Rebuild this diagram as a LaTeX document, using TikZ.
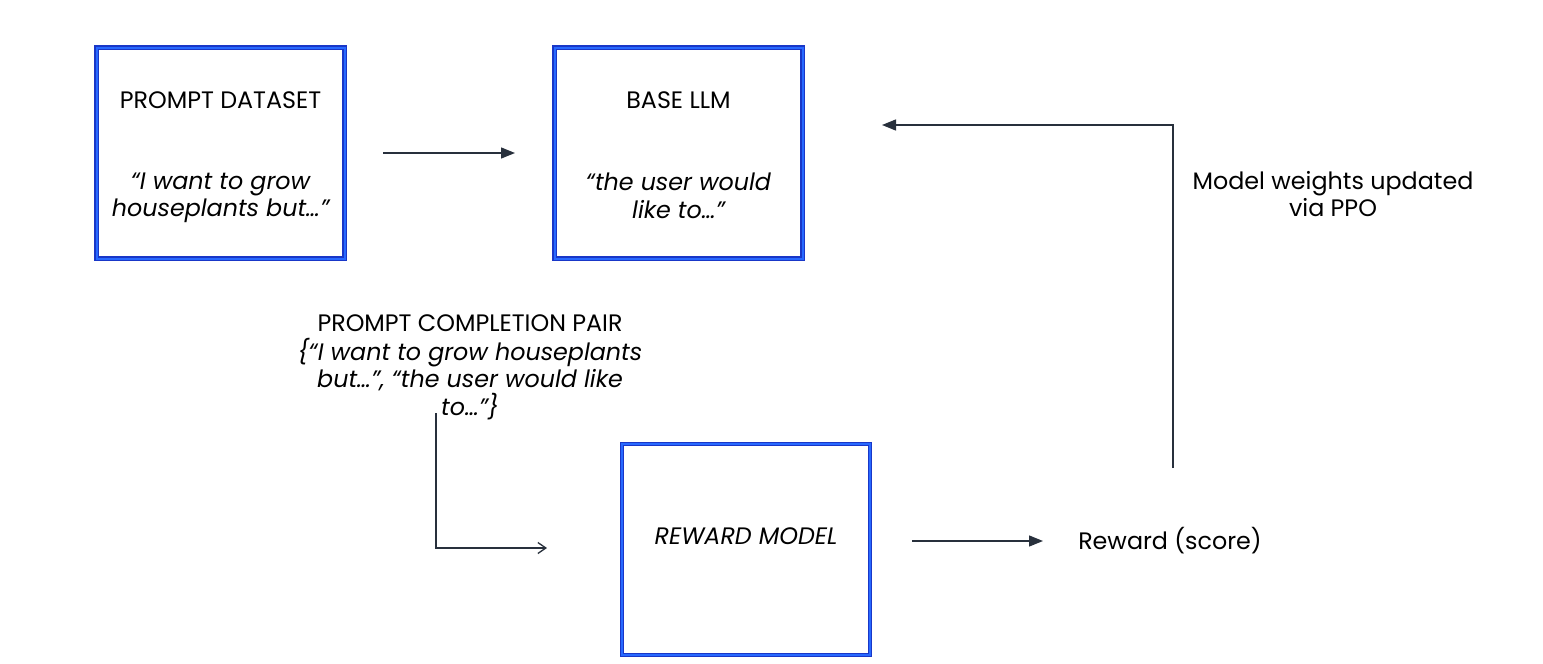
\documentclass[tikz,border=0pt]{standalone}
\usepackage{fontspec}
\setmainfont{Poppins}
\usetikzlibrary{arrows.meta}
\definecolor{bdark}{RGB}{25,55,200}
\definecolor{bbright}{RGB}{40,105,255}
\definecolor{linec}{RGB}{40,48,60}
\tikzset{
  blk/.style={draw=bdark, line width=4.2pt, minimum width=248pt, minimum height=211pt, inner sep=0pt},
  inblk/.style={draw=bbright, line width=2pt, minimum width=248pt, minimum height=211pt, inner sep=0pt},
  txt/.style={font=\fontsize{23.8}{27.5}\selectfont, align=center, inner sep=0pt, text=black},
  itxt/.style={font=\fontsize{23.8}{27.5}\selectfont\itshape, align=center, inner sep=0pt, text=black},
  conn/.style={draw=linec, line width=1.3pt, -{Triangle[length=14pt,width=11pt]}},
  openconn/.style={draw=linec, line width=1.3pt, -{Straight Barb[length=8pt,width=11pt,line width=1.3pt]}}
}
\begin{document}
\begin{tikzpicture}[x=1pt,y=-1pt]
\useasboundingbox[fill=white] (0,0) rectangle (1543,664);
% boxes
\node[blk] (pd) at (220.5,153) {};
\node[inblk] at (pd.center) {};
\node[blk] (llm) at (678.5,153) {};
\node[inblk] at (llm.center) {};
\node[blk] (rm) at (746,549.5) {};
\node[inblk] at (rm.center) {};
% texts
\node[txt] (pdt) at (220.5,100) {PROMPT DATASET};
\node[itxt] (pdq) at (220.5,198) {“I want to grow\\houseplants but…”};
\node[txt] (llmt) at (678.5,100) {BASE LLM};
\node[itxt] (llmq) at (678.5,196) {“the user would\\like to…”};
\node[itxt] (rmt) at (746,536) {REWARD MODEL};
\node[txt] (pct) at (470,323) {PROMPT COMPLETION PAIR};
\node[itxt] (pcq) at (470,379) {\{“I want to grow houseplants\\but…”, “the user would like\\to…”\}};
\node[txt] (mw) at (1333,194) {Model weights updated\\via PPO};
\node[txt] (rw) at (1170,541) {Reward (score)};
% connector points
\coordinate (a1) at (383,153);
\coordinate (a2) at (515,153);
\coordinate (b1) at (436,413);
\coordinate (b2) at (547,548);
\coordinate (c1) at (912,541);
\coordinate (c2) at (1043,541);
\coordinate (d1) at (1173,468);
\coordinate (d2) at (882,125);
% connectors
\draw[conn] (a1) -- (a2);
\draw[openconn] (b1) |- (b2);
\draw[conn] (c1) -- (c2);
\draw[conn] (d1) |- (d2);
\end{tikzpicture}
\end{document}
